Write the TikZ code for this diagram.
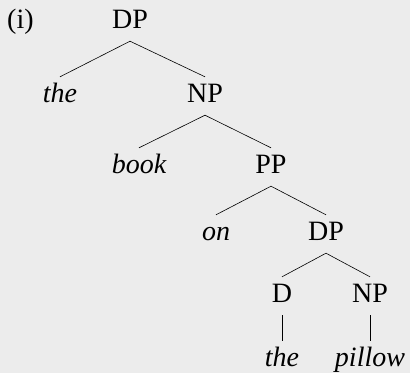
\documentclass[tikz,border=0pt]{standalone}
\usepackage{fontspec}
\setmainfont{Liberation Serif}
\definecolor{bggray}{HTML}{ECECEC}
\begin{document}
\begin{tikzpicture}[
  x=1pt, y=-1pt,
  font=\fontsize{28}{32}\selectfont,
  cat/.style={inner sep=0pt, text height=25pt, text depth=13pt, anchor=base},
  word/.style={cat, font=\fontsize{28}{32}\selectfont\itshape},
  branch/.style={line width=0.6pt}
]
\fill[bggray] (0,0) rectangle (410,373);
\useasboundingbox (0,0) rectangle (410,373);
\node[anchor=base west, inner sep=0pt] (Ex) at (7,28) {(i)};
\node[cat]  (DPtop)  at (130,28)  {DP};
\node[word] (The)    at (60,102)  {the};
\node[cat]  (NPtop)  at (205,102) {NP};
\node[word] (Book)   at (139,173) {book};
\node[cat]  (PP)     at (271,173) {PP};
\node[word] (On)     at (216,240) {on};
\node[cat]  (DPlow)  at (326,240) {DP};
\node[cat]  (D)      at (282,302) {D};
\node[cat]  (NPlow)  at (370,302) {NP};
\node[word] (TheLow) at (282,366) {the};
\node[word] (Pillow) at (370,366) {pillow};

\draw[branch] (DPtop.south) -- (The.north);
\draw[branch] (DPtop.south) -- (NPtop.north);
\draw[branch] (NPtop.south) -- (Book.north);
\draw[branch] (NPtop.south) -- (PP.north);
\draw[branch] (PP.south) -- (On.north);
\draw[branch] (PP.south) -- (DPlow.north);
\draw[branch] (DPlow.south) -- (D.north);
\draw[branch] (DPlow.south) -- (NPlow.north);
\draw[branch] (D.south) -- (TheLow.north);
\draw[branch] (NPlow.south) -- (Pillow.north);
\end{tikzpicture}
\end{document}
